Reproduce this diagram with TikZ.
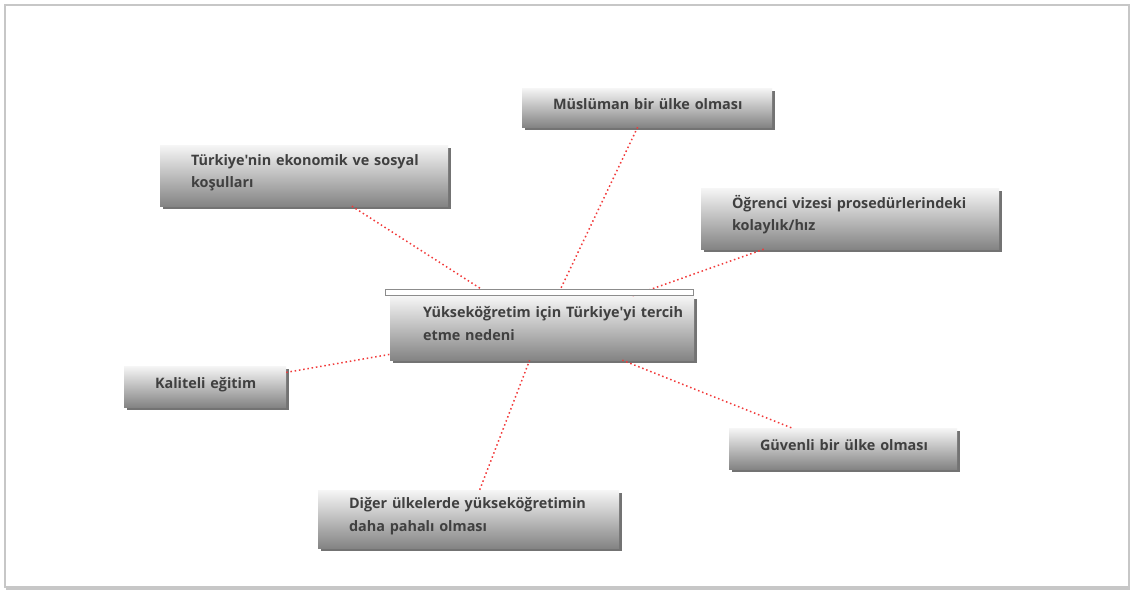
\documentclass[tikz,border=0pt]{standalone}
\usepackage{fontspec}
\newfontfamily\boxfont{Open Sans}
\usetikzlibrary{shadows}
\definecolor{boxtop}{HTML}{F6F6F6}
\definecolor{boxbot}{HTML}{848484}
\definecolor{boxtxt}{HTML}{404040}
\definecolor{linkred}{HTML}{F23A3A}
\begin{document}
\begin{tikzpicture}[x=1pt,y=-1pt,
    reason/.style={rectangle, inner xsep=4pt, inner ysep=0pt,
        top color=boxtop, bottom color=boxbot, text=boxtxt,
        font=\boxfont\bfseries\fontsize{14.4}{22.5}\selectfont,
        execute at begin node={\raggedright\leftskip=#1\relax},
        drop shadow={shadow xshift=3pt, shadow yshift=-3pt, fill=black!55, opacity=1}},
    reason/.default=27pt,
    oneline/.style={text height=10pt, text depth=6pt},
    twoline/.style={text height=10pt, text depth=31pt},
    link/.style={linkred, line width=1.5pt, dash pattern=on 1.5pt off 2.8pt}]

    \useasboundingbox (0,0) rectangle (1135,594);
    \draw[black!22, line width=2pt, fill=white,
        drop shadow={shadow xshift=1pt, shadow yshift=-3pt, fill=black!22, opacity=1}]
        (5,5) rectangle (1129,587);

    \node[reason=29pt, twoline, minimum width=304, minimum height=64, text width=296] (ctr) at (542,328)
        {Yükseköğretim için Türkiye'yi tercih\\etme nedeni};
    \node[reason, oneline, minimum width=250, minimum height=39, text width=242] (mus) at (647,107.5)
        {Müslüman bir ülke olması};
    \node[reason, twoline, minimum width=288, minimum height=61, text width=280] (tk) at (304,175.5)
        {Türkiye'nin ekonomik ve sosyal\\koşulları};
    \node[reason, twoline, minimum width=298, minimum height=61, text width=290] (og) at (850,218.5)
        {Öğrenci vizesi prosedürlerindeki\\kolaylık/hız};
    \node[reason, oneline, minimum width=162, minimum height=41, text width=154] (kal) at (205,386.5)
        {Kaliteli eğitim};
    \node[reason, oneline, minimum width=228, minimum height=41, text width=220] (guv) at (843,448.5)
        {Güvenli bir ülke olması};
    \node[reason, twoline, minimum width=301, minimum height=58, text width=293] (dig) at (468.5,519)
        {Diğer ülkelerde yükseköğretimin\\daha pahalı olması};

    \draw[link] (tk) -- (ctr);
    \draw[link] (mus) -- (ctr);
    \draw[link] (og) -- (ctr);
    \draw[link] (kal) -- (ctr);
    \draw[link] (guv) -- (ctr);
    \draw[link] (dig) -- (ctr);

    \draw[black!45, line width=1pt, fill=white]
        ([xshift=-4pt]ctr.north west) rectangle ([xshift=-1pt,yshift=6pt]ctr.north east);
\end{tikzpicture}
\end{document}
